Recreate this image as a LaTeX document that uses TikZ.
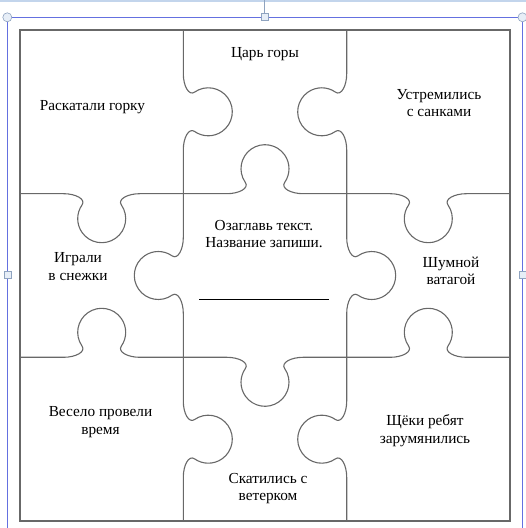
\documentclass[tikz,border=0pt]{standalone}
\usepackage{fontspec}
\setmainfont{Liberation Serif}
\usepackage{xcolor}
\usetikzlibrary{positioning}
\definecolor{PGray}{HTML}{686868}
\definecolor{PSel}{HTML}{6470E0}
\definecolor{PHandle}{HTML}{8FA3BF}
\definecolor{PBand}{HTML}{C3D5EC}
\definecolor{PInk}{HTML}{000000}

\begin{document}
\begin{tikzpicture}[x=1pt, y=1pt,
  every node/.style={font=\fontsize{15.3}{17.5}\selectfont, text=PInk},
  piece/.style={draw=PGray, line width=1.1pt},
  txt/.style={align=center, inner sep=0pt},
  sel/.style={draw=PSel, line width=1.3pt},
  grip/.style={draw=PHandle, fill=PBand!40, line width=0.6pt}]
\useasboundingbox (0,0) rectangle (526,528);
% selection frame
\fill[PBand] (0,525.5) rectangle (526,528);
\draw[PHandle, line width=1pt] (264.5,510.7) -- (264.5,528);
\draw[sel] (7.3,-2) -- (7.3,510.7) -- (522.5,510.7) -- (522.5,-2);
% puzzle
\draw[piece] (20,7) rectangle (510,498);
\foreach \px/\py/\a in {183.3/416.2/-90, 183.3/252.5/90, 183.3/88.8/-90,
                        346.7/416.2/90, 346.7/252.5/-90, 346.7/88.8/90,
                        101.7/334.3/180, 265/334.3/0, 428.3/334.3/180,
                        101.7/170.7/0, 265/170.7/180, 428.3/170.7/0}
  \draw[piece, shift={(\px,\py)}, rotate=\a] (-81.8,0) -- (-38,0)
    .. controls (-26,0) and (-15.6,5.5) .. (-19.66,11.23)
    arc[start angle=215, end angle=-35, radius=24]
    .. controls (15.6,5.5) and (26,0) .. (38,0) -- (81.8,0);
% handles
\foreach \hx in {7.3,522.5} \draw[grip] (\hx,510.7) circle (4.5);
\draw[grip] (261,507.2) rectangle ++(7,7);
\foreach \hx in {7.3,522.5} \draw[grip, shift={(-3.5,-3.5)}] (\hx,253) rectangle ++(7,7);
% texts
\node[txt] (kingHill)   at (265,473.5) {Царь горы};
\node[txt] (rolled)     at (92.5,421)  {Раскатали горку};
\node[txt] (rushed)     at (439,425)   {Устремились\\с санками};
\node[txt] (title)      at (264,294)   {Озаглавь текст.\\Название запиши.};
\node[txt] (snow)       at (78,261.5)  {Играли\\в снежки};
\node[txt] (noisy)      at (451,257.3) {Шумной\\ватагой};
\node[txt] (fun)        at (100.5,106) {Весело провели\\время};
\node[txt] (cheeks)     at (425,97.5)  {Щёки ребят\\зарумянились};
\node[txt] (rolledDown) at (268,39.5)  {Скатились с\\ветерком};
\coordinate (lineL) at (199,228.7);
\coordinate (lineR) at (329,228.7);
\draw[PInk, line width=0.9pt] (lineL) -- (lineR);
\end{tikzpicture}
\end{document}
